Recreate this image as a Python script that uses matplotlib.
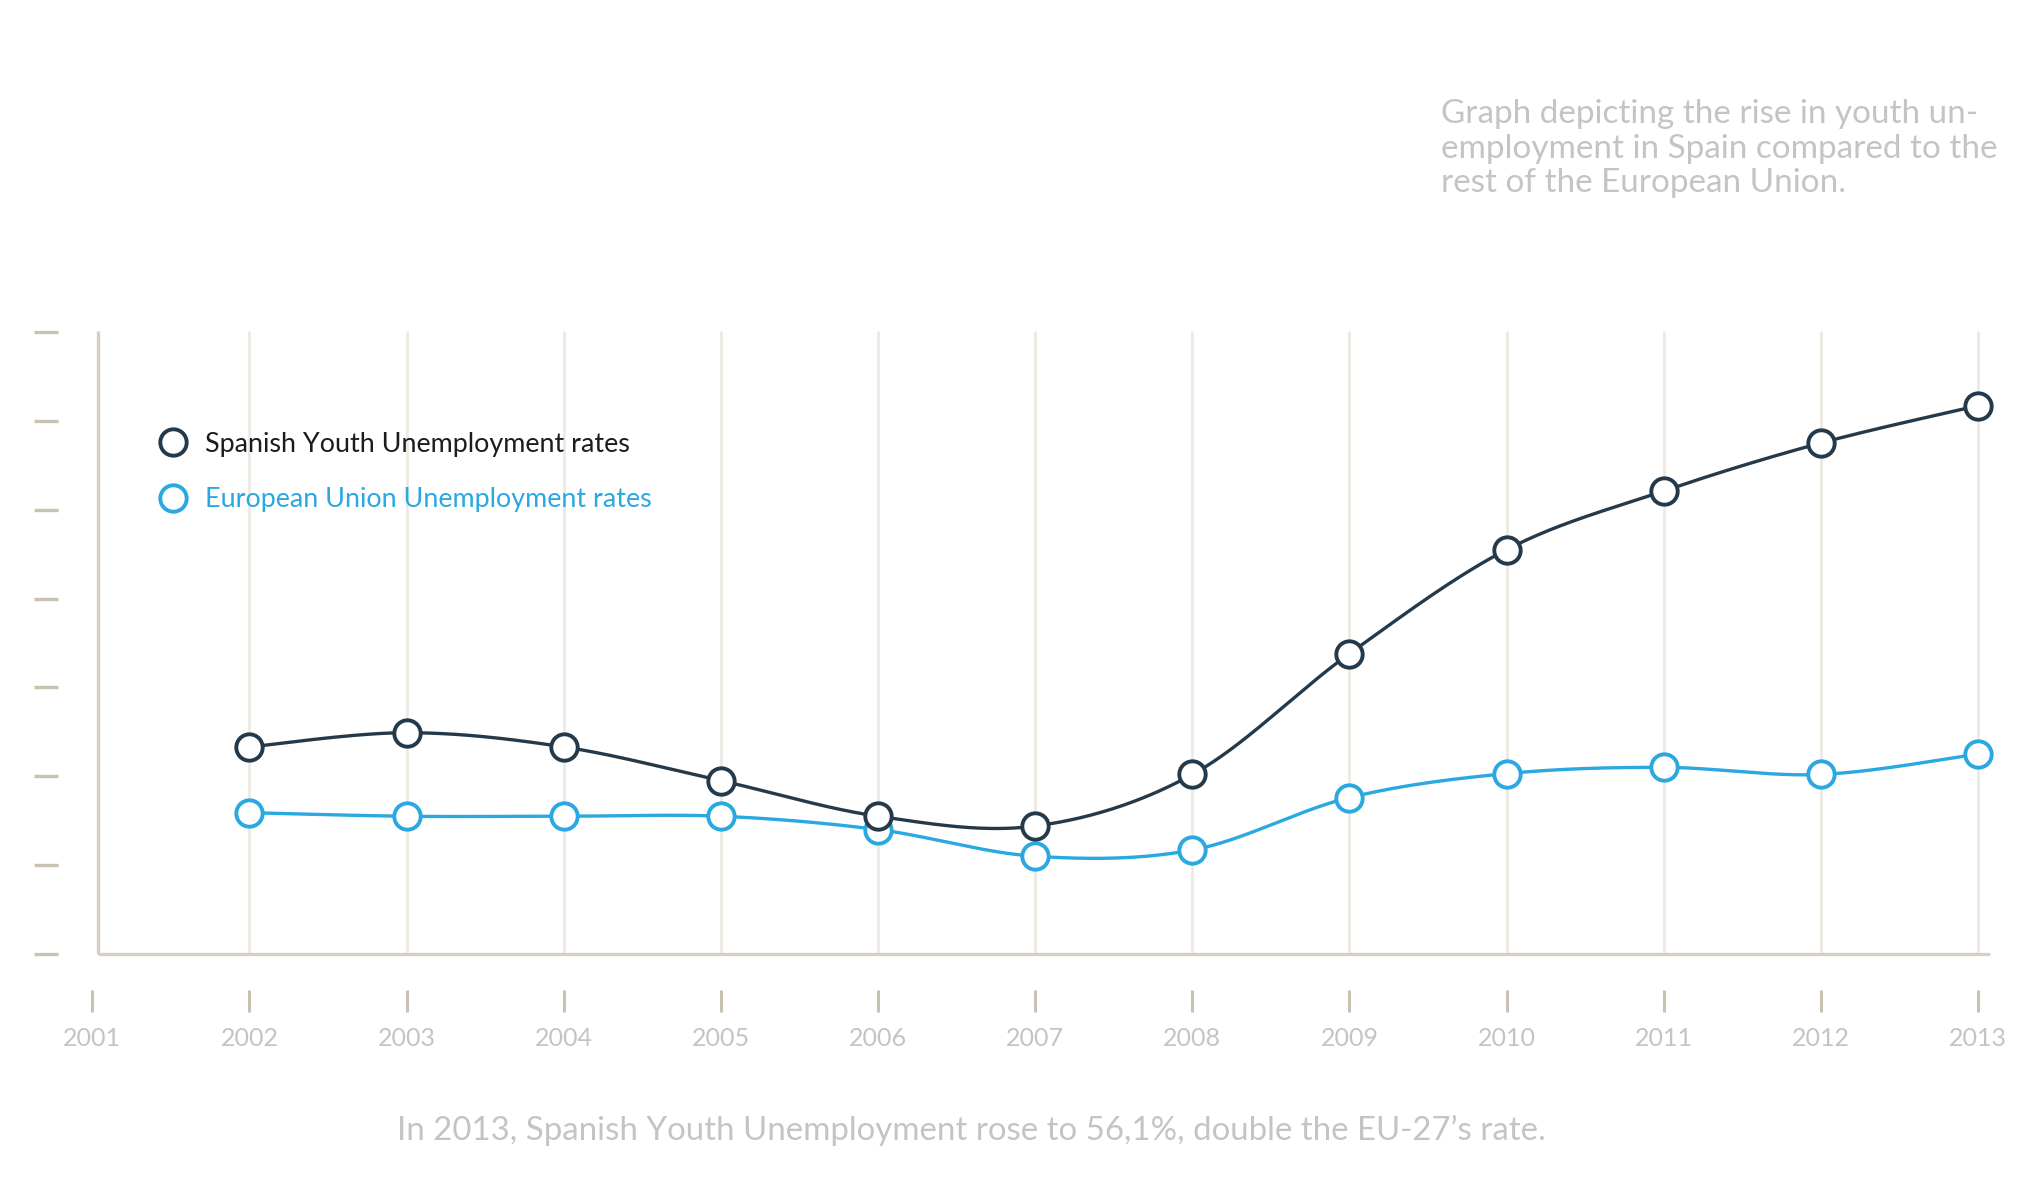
import numpy as np
import matplotlib
matplotlib.use("Agg")
import matplotlib.pyplot as plt
from matplotlib.transforms import blended_transform_factory
from matplotlib.lines import Line2D

# ---------------- data ----------------
years = [2002, 2003, 2004, 2005, 2006, 2007, 2008, 2009, 2010, 2011, 2012, 2013]
spain = [23.3, 24.9, 23.3, 19.5, 15.5, 14.4, 20.2, 33.8, 45.5, 52.1, 57.5, 61.7]
eu = [15.9, 15.5, 15.5, 15.5, 14.0, 11.0, 11.7, 17.6, 20.3, 21.0, 20.2, 22.5]
tick_years = list(range(2001, 2014))
tick_labels = [str(y) for y in tick_years]
y_ticks = [0, 10, 20, 30, 40, 50, 60, 70]

label_spain = "Spanish Youth Unemployment rates"
label_eu = "European Union Unemployment rates"
note_lines = ["Graph depicting the rise in youth un-",
              "employment in Spain compared to the",
              "rest of the European Union."]
caption = "In 2013, Spanish Youth Unemployment rose to 56,1%, double the EU-27\u2019s rate."

# ---------------- style ----------------
C_SPAIN = "#243a4b"
C_EU = "#2aa8e1"
C_GREY_TXT = "#c4c4c4"
C_AXIS = "#d8d0bf"
C_GRID = "#ece9e0"
C_TICK = "#cac2b1"
FONT = ["Lato", "DejaVu Sans"]
TXT_W = "normal"

W, H = 2020, 1181
fig = plt.figure(figsize=(W / 100, H / 100), dpi=100)
fig.patch.set_facecolor("white")
renderer = fig.canvas.get_renderer()


def fit_size(s, target_px, weight="normal", base=20.0):
    t = fig.text(0, 0, s, fontsize=base, family=FONT, fontweight=weight)
    w = t.get_window_extent(renderer).width
    t.remove()
    return base * target_px / w


def cardinal(x, y, n=60):
    x = np.asarray(x, float)
    y = np.asarray(y, float)
    px = np.concatenate([[x[0]], x, [x[-1]]])
    py = np.concatenate([[y[0]], y, [y[-1]]])
    xs, ys = [], []
    t = np.linspace(0, 1, n)
    h00 = 2 * t**3 - 3 * t**2 + 1
    h10 = t**3 - 2 * t**2 + t
    h01 = -2 * t**3 + 3 * t**2
    h11 = t**3 - t**2
    for i in range(1, len(px) - 2):
        mx0 = (px[i + 1] - px[i - 1]) / 2
        my0 = (py[i + 1] - py[i - 1]) / 2
        mx1 = (px[i + 2] - px[i]) / 2
        my1 = (py[i + 2] - py[i]) / 2
        xs.append(h00 * px[i] + h10 * mx0 + h01 * px[i + 1] + h11 * mx1)
        ys.append(h00 * py[i] + h10 * my0 + h01 * py[i + 1] + h11 * my1)
    return np.concatenate(xs), np.concatenate(ys)


# axes placement (pixel geometry of the reference)
ax_l, ax_r, ax_b, ax_t = 97.7, 1990.0, 954.0, 331.0
ax = fig.add_axes([ax_l / W, (H - ax_b) / H, (ax_r - ax_l) / W, (ax_b - ax_t) / H])
ax.set_xlim(2001.034, 2013.076)
ax.set_ylim(0, 70.1)
ax.set_xticks([])
ax.set_yticks([])
ax.patch.set_alpha(0)
for s in ("top", "right"):
    ax.spines[s].set_visible(False)
for s in ("left", "bottom"):
    ax.spines[s].set_color(C_AXIS)
    ax.spines[s].set_linewidth(2.4)
    ax.spines[s].set_capstyle("butt")

# vertical grid lines
ax.vlines(years, 0, 70.1, color=C_GRID, lw=1.9, zorder=1)

# detached y tick marks
tr_y = blended_transform_factory(ax.transAxes, ax.transData)
axw = ax_r - ax_l
axh = ax_b - ax_t
ax.hlines(y_ticks, (34 - ax_l) / axw, (58 - ax_l) / axw, transform=tr_y,
          color=C_TICK, lw=2.4, clip_on=False)

# detached x tick marks and labels
tr_x = blended_transform_factory(ax.transData, ax.transAxes)
ax.vlines(tick_years, -(990 - ax_b) / axh, -(1012 - ax_b) / axh, transform=tr_x,
          color=C_TICK, lw=2.2, clip_on=False)
fs_year = fit_size("2001", 58, weight=TXT_W)
for yv, lab in zip(tick_years, tick_labels):
    ax.text(yv, -(1038 - ax_b) / axh, lab, transform=tr_x, ha="center", va="center",
            fontsize=fs_year, color=C_GREY_TXT, family=FONT, fontweight=TXT_W)

# series
MS, MEW = 19, 2.8
xs, ys = cardinal(years, spain)
ax.plot(xs, ys, color=C_SPAIN, lw=2.4, zorder=3, solid_capstyle="round")
ax.plot(years, spain, linestyle="none", marker="o", ms=MS, mfc="white",
        mec=C_SPAIN, mew=MEW, zorder=5, clip_on=False)
xe, ye = cardinal(years, eu)
ax.plot(xe, ye, color=C_EU, lw=2.4, zorder=2, solid_capstyle="round")
ax.plot(years, eu, linestyle="none", marker="o", ms=MS, mfc="white",
        mec=C_EU, mew=MEW, zorder=4, clip_on=False)

# legend
fs_leg = fit_size(label_spain, 426)
handles = [Line2D([], [], linestyle="none", marker="o", ms=MS, mfc="white", mec=C_SPAIN, mew=MEW),
           Line2D([], [], linestyle="none", marker="o", ms=MS, mfc="white", mec=C_EU, mew=MEW)]
fs_leg_px = fs_leg * 100 / 72
leg = ax.legend(handles, [label_spain, label_eu], loc="center left",
                bbox_to_anchor=(173 / W, 1 - 472 / H), bbox_transform=fig.transFigure,
                frameon=False, handlelength=0, handletextpad=(205 - 173) / fs_leg_px,
                borderpad=0, borderaxespad=0, labelspacing=0.75 + 10.5 / fs_leg_px,
                prop={"family": FONT, "size": fs_leg},
                labelcolor=["#1c1c1c", C_EU])

# note at top right
fs_note = fit_size(note_lines[1], 557, weight=TXT_W)
for line, yc in zip(note_lines, [114, 149, 183]):
    fig.text(1441 / W, 1 - yc / H, line, ha="left", va="center", fontsize=fs_note,
             color=C_GREY_TXT, family=FONT, fontweight=TXT_W)

# caption
fs_cap = fit_size(caption, 1152, weight=TXT_W)
fig.text(971 / W, 1 - 1130 / H, caption, ha="center", va="center", fontsize=fs_cap,
         color=C_GREY_TXT, family=FONT, fontweight=TXT_W)

fig.savefig("out.png", dpi=100, facecolor="white")
